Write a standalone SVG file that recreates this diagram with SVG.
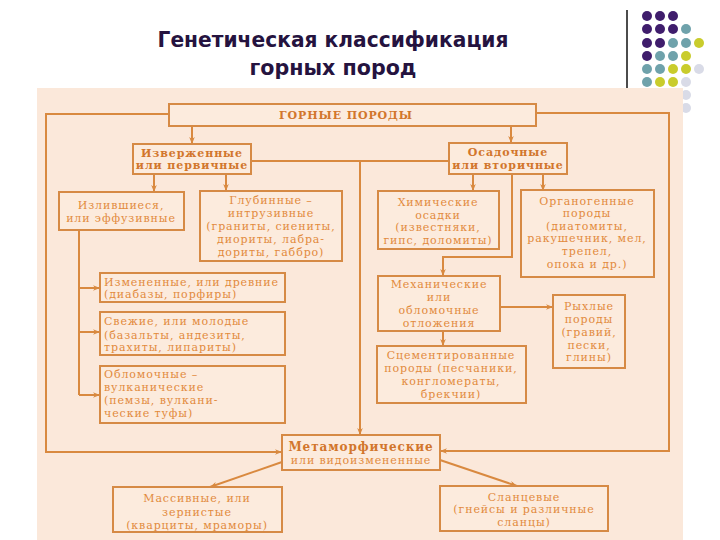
<svg xmlns="http://www.w3.org/2000/svg" width="720" height="540" viewBox="0 0 720 540">
<style>
.bg{fill:#fbe8da}
.box{fill:#fcebdd;stroke:#d68a45;stroke-width:2}
.ln{fill:none;stroke:#d9893f;stroke-width:2}
.t{font-family:"DejaVu Serif","Liberation Serif",serif;font-size:11px;letter-spacing:0.9px;fill:#e28a3c;text-anchor:middle}
.l{text-anchor:start}
.b{font-weight:bold;fill:#d2762c}
.title{font-family:"DejaVu Sans","Liberation Sans",sans-serif;font-weight:bold;font-size:21px;fill:#25133f;text-anchor:middle}
.p{fill:#3f1d6c}.c{fill:#6fa2ab}.y{fill:#c9cc2c}.w{fill:#d9dbe7}
</style>
<defs>
<marker id="ar" viewBox="0 0 10 8" refX="10" refY="4" markerWidth="7" markerHeight="5.6" markerUnits="userSpaceOnUse" orient="auto">
<path d="M0,0 L10,4 L0,8 L3,4 Z" fill="#d9893f"/>
</marker>
</defs>
<rect width="720" height="540" fill="#ffffff"/>
<g id="title">
<text class="title" x="333" y="47" textLength="351" lengthAdjust="spacingAndGlyphs">Генетическая классификация</text>
<text class="title" x="333" y="75" textLength="167" lengthAdjust="spacingAndGlyphs">горных пород</text>
</g>
<g id="decor">
<line x1="627" y1="10" x2="627" y2="90" stroke="#111" stroke-width="1.5"/>
<circle class="p" cx="647" cy="16" r="5"/><circle class="p" cx="660" cy="16" r="5"/><circle class="p" cx="673" cy="16" r="5"/>
<circle class="p" cx="647" cy="29" r="5"/><circle class="p" cx="660" cy="29" r="5"/><circle class="p" cx="673" cy="29" r="5"/><circle class="c" cx="686" cy="29" r="5"/>
<circle class="p" cx="647" cy="43" r="5"/><circle class="p" cx="660" cy="43" r="5"/><circle class="c" cx="673" cy="43" r="5"/><circle class="c" cx="686" cy="43" r="5"/><circle class="y" cx="699" cy="43" r="5"/>
<circle class="p" cx="647" cy="56" r="5"/><circle class="c" cx="660" cy="56" r="5"/><circle class="c" cx="673" cy="56" r="5"/><circle class="y" cx="686" cy="56" r="5"/>
<circle class="c" cx="647" cy="69" r="5"/><circle class="c" cx="660" cy="69" r="5"/><circle class="y" cx="673" cy="69" r="5"/><circle class="y" cx="686" cy="69" r="5"/><circle class="w" cx="699" cy="69" r="5"/>
<circle class="c" cx="647" cy="82" r="5"/><circle class="y" cx="660" cy="82" r="5"/><circle class="y" cx="673" cy="82" r="5"/><circle class="w" cx="686" cy="82" r="5"/>
<circle class="w" cx="686" cy="95" r="5"/>
<circle class="w" cx="686" cy="108" r="5"/>
</g>
<rect class="bg" x="37" y="88" width="646" height="452"/>
<g id="connectors">
<path class="ln" d="M192,126 V144" marker-end="url(#ar)"/>
<path class="ln" d="M511,126 V143" marker-end="url(#ar)"/>
<path class="ln" d="M169,114 H46 V452 H282" marker-end="url(#ar)"/>
<path class="ln" d="M536,113 H669 V451 H440" marker-end="url(#ar)"/>
<path class="ln" d="M251,161 H449"/>
<path class="ln" d="M360,161 V435" marker-end="url(#ar)"/>
<path class="ln" d="M154,174 V192" marker-end="url(#ar)"/>
<path class="ln" d="M226,174 V191" marker-end="url(#ar)"/>
<path class="ln" d="M79,230 V395"/>
<path class="ln" d="M79,288 H100" marker-end="url(#ar)"/>
<path class="ln" d="M79,332 H100" marker-end="url(#ar)"/>
<path class="ln" d="M79,395 H100" marker-end="url(#ar)"/>
<path class="ln" d="M473,174 V191" marker-end="url(#ar)"/>
<path class="ln" d="M543,174 V191" marker-end="url(#ar)"/>
<path class="ln" d="M512,174 V257 H443 V276" marker-end="url(#ar)"/>
<path class="ln" d="M500,307 H553" marker-end="url(#ar)"/>
<path class="ln" d="M443,331 V346" marker-end="url(#ar)"/>
<path class="ln" d="M282,462 L210,487" marker-end="url(#ar)"/>
<path class="ln" d="M440,460 L517,486" marker-end="url(#ar)"/>
</g>
<g id="n-gornye">
<rect class="box" x="169" y="104" width="367" height="22"/>
<text class="t b" x="346" y="119">ГОРНЫЕ ПОРОДЫ</text>
</g>
<g id="n-izverzh">
<rect class="box" x="133" y="144" width="118" height="30"/>
<text class="t b" x="192" y="157">Изверженные</text>
<text class="t b" x="192" y="169">или первичные</text>
</g>
<g id="n-osad">
<rect class="box" x="449" y="143" width="118" height="31"/>
<text class="t b" x="508" y="156">Осадочные</text>
<text class="t b" x="508" y="169">или вторичные</text>
</g>
<g id="n-izliv">
<rect class="box" x="59" y="192" width="125" height="38"/>
<text class="t" x="121" y="209">Излившиеся,</text>
<text class="t" x="121" y="222">или эффузивные</text>
</g>
<g id="n-glub">
<rect class="box" x="200" y="191" width="142" height="70"/>
<text class="t" x="271" y="204">Глубинные –</text>
<text class="t" x="271" y="217">интрузивные</text>
<text class="t" x="271" y="230">(граниты, сиениты,</text>
<text class="t" x="271" y="243">диориты, лабра-</text>
<text class="t" x="271" y="256">дориты, габбро)</text>
</g>
<g id="n-izmen">
<rect class="box" x="100" y="273" width="185" height="29"/>
<text class="t l" x="104" y="286">Измененные, или древние</text>
<text class="t l" x="104" y="298">(диабазы, порфиры)</text>
</g>
<g id="n-svezh">
<rect class="box" x="100" y="312" width="185" height="43"/>
<text class="t l" x="104" y="325">Свежие, или молодые</text>
<text class="t l" x="104" y="339">(базальты, андезиты,</text>
<text class="t l" x="104" y="351">трахиты, липариты)</text>
</g>
<g id="n-oblom-vulk">
<rect class="box" x="100" y="366" width="185" height="57"/>
<text class="t l" x="104" y="378">Обломочные –</text>
<text class="t l" x="104" y="391">вулканические</text>
<text class="t l" x="104" y="404">(пемзы, вулкани-</text>
<text class="t l" x="104" y="417">ческие туфы)</text>
</g>
<g id="n-chem">
<rect class="box" x="378" y="191" width="121" height="58"/>
<text class="t" x="438" y="206">Химические</text>
<text class="t" x="438" y="219">осадки</text>
<text class="t" x="438" y="231">(известняки,</text>
<text class="t" x="438" y="244">гипс, доломиты)</text>
</g>
<g id="n-organ">
<rect class="box" x="521" y="190" width="133" height="87"/>
<text class="t" x="587" y="205">Органогенные</text>
<text class="t" x="587" y="217">породы</text>
<text class="t" x="587" y="230">(диатомиты,</text>
<text class="t" x="587" y="242">ракушечник, мел,</text>
<text class="t" x="587" y="255">трепел,</text>
<text class="t" x="587" y="268">опока и др.)</text>
</g>
<g id="n-mech">
<rect class="box" x="378" y="276" width="122" height="55"/>
<text class="t" x="439" y="288">Механические</text>
<text class="t" x="439" y="301">или</text>
<text class="t" x="439" y="314">обломочные</text>
<text class="t" x="439" y="327">отложения</text>
</g>
<g id="n-ryhl">
<rect class="box" x="553" y="295" width="72" height="73"/>
<text class="t" x="589" y="310">Рыхлые</text>
<text class="t" x="589" y="323">породы</text>
<text class="t" x="589" y="336">(гравий,</text>
<text class="t" x="589" y="349">пески,</text>
<text class="t" x="589" y="361">глины)</text>
</g>
<g id="n-cement">
<rect class="box" x="377" y="346" width="149" height="57"/>
<text class="t" x="451" y="359">Сцементированные</text>
<text class="t" x="451" y="372">породы (песчаники,</text>
<text class="t" x="451" y="385">конгломераты,</text>
<text class="t" x="451" y="398">брекчии)</text>
</g>
<g id="n-meta">
<rect class="box" x="282" y="435" width="158" height="35"/>
<text class="t b" x="361" y="451" style="font-size:12px">Метаморфические</text>
<text class="t" x="361" y="464">или видоизмененные</text>
</g>
<g id="n-massiv">
<rect class="box" x="113" y="487" width="169" height="45"/>
<text class="t" x="197" y="502">Массивные, или</text>
<text class="t" x="197" y="516">зернистые</text>
<text class="t" x="197" y="529">(кварциты, мраморы)</text>
</g>
<g id="n-slanc">
<rect class="box" x="440" y="486" width="168" height="45"/>
<text class="t" x="524" y="501">Сланцевые</text>
<text class="t" x="524" y="513">(гнейсы и различные</text>
<text class="t" x="524" y="526">сланцы)</text>
</g>
</svg>
